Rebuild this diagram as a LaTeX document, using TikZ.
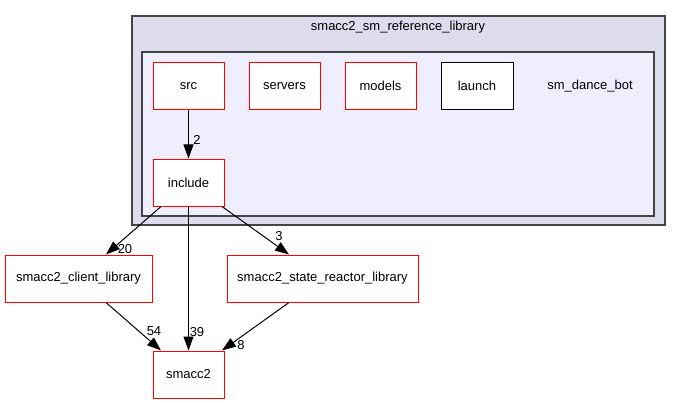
\documentclass[tikz,border=0pt]{standalone}
\usepackage{fontspec}
\setmainfont{Liberation Sans}
\usetikzlibrary{arrows.meta}
\definecolor{outerfill}{HTML}{DDDDEE}
\definecolor{innerfill}{HTML}{EEEEFF}
\definecolor{frame}{HTML}{444444}
\begin{document}
\begin{tikzpicture}[x=1pt,y=-1pt,
  every node/.style={font=\fontsize{13}{15}\selectfont},
  dir/.style={draw=red,fill=white,line width=1pt,minimum height=47pt,inner sep=0pt},
  dirk/.style={draw=black,fill=white,line width=1pt,minimum height=47pt,inner sep=0pt},
  dep/.style={draw=black,line width=1pt,-{Triangle[length=14pt,width=10pt]}},
  lbl/.style={inner sep=0pt}]
\useasboundingbox (0,0) rectangle (681,404);
\fill[white] (0,0) rectangle (681,404);
\draw[frame,fill=outerfill,line width=1.3pt] (132,16) rectangle (665,225);
\node[lbl] (title) at (398,27) {smacc2\_sm\_reference\_library};
\draw[frame,fill=innerfill,line width=1.3pt] (142,52) rectangle (654,216);
\node[lbl] (smdb) at (590,86) {sm\_dance\_bot};
\node[dir,minimum width=71pt] (src) at (188.5,86) {src};
\node[dir,minimum width=71pt] (srv) at (284.5,86) {servers};
\node[dir,minimum width=71pt] (mod) at (380.5,86) {models};
\node[dirk,minimum width=72pt] (lau) at (477,86) {launch};
\node[dir,minimum width=71pt] (inc) at (188.5,182.5) {include};
\node[dir,minimum width=147pt] (cl) at (78.5,278.5) {smacc2\_client\_library};
\node[dir,minimum width=191pt] (sr) at (322.5,278.5) {smacc2\_state\_reactor\_library};
\node[dir,minimum width=71pt] (sm) at (188.5,374.5) {smacc2};
\draw[dep] (src) -- (inc);
\draw[dep] (inc) -- (cl);
\draw[dep] (inc) -- (sm);
\draw[dep] (inc) -- (sr);
\draw[dep] (cl) -- (sm);
\draw[dep] (sr) -- (sm);
\node[lbl] (l2) at (197,140) {2};
\node[lbl] (l20) at (125,249) {20};
\node[lbl] (l39) at (197,332) {39};
\node[lbl] (l3) at (279,236) {3};
\node[lbl] (l54) at (154,331) {54};
\node[lbl] (l8) at (241,345) {8};
\end{tikzpicture}
\end{document}
